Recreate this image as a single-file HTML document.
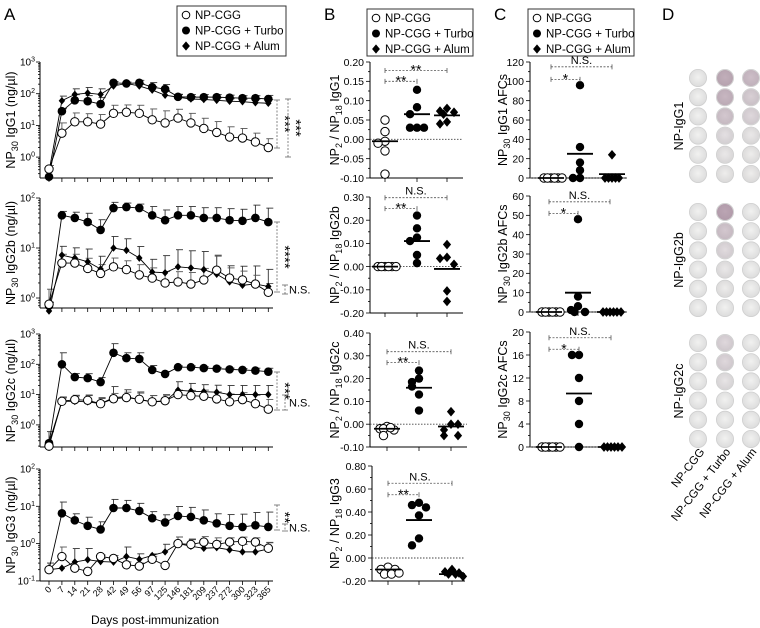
<!DOCTYPE html>
<html><head><meta charset="utf-8">
<style>
html,body{margin:0;padding:0;background:#fff;}
svg{display:block;font-family:"Liberation Sans",Arial,sans-serif;}
</style></head>
<body>
<svg id="fig" width="760" height="628" viewBox="0 0 760 628" xmlns="http://www.w3.org/2000/svg">
<text x="4" y="20" font-size="17">A</text>
<text x="324" y="20" font-size="17">B</text>
<text x="494" y="20" font-size="17">C</text>
<text x="662" y="20" font-size="17">D</text>
<text x="155" y="624" font-size="12" text-anchor="middle">Days post-immunization</text>
</svg>
<script>
// ---------- Panel A data ----------
const days = ['0','7','14','21','28','42','49','56','97','125','146','181','209','237','272','300','323','365'];
const g1Open  = [0.42,5.7,13,13,11,24,26,24,15,12,17,12,8,6,4.3,4,3,2];
const g1Turbo = [0.24,28,62,58,47,220,210,220,160,140,80,78,78,78,75,72,72,68];
const g1Alum  = [0.35,60,95,105,95,175,210,175,130,90,78,68,66,62,58,56,52,50];
const g1OpenErr  = [1.3,2.1,1.9,1.8,2,1.8,1.7,1.8,2.2,2.4,1.9,2,2.1,2.2,2.1,2,1.9,1.9];
const g1TurboErr = [1,1.2,1.5,1.5,1.6,1.1,1.1,1.2,1.4,1.4,1.2,1.2,1.2,1.2,1.2,1.2,1.2,1.3];
const g1AlumErr  = [1,1.4,1.5,1.5,1.5,1.1,1.1,1.2,1.3,1.4,1.2,1.2,1.2,1.2,1.2,1.2,1.3,1.3];

const g2bOpen  = [0.75,5,5,3.9,3.1,4.2,3.7,2.9,2.5,2.0,2.1,1.9,2.3,3.6,2.5,2.3,1.9,1.3];
const g2bTurbo = [0.7,45,40,33,23,63,66,63,45,36,45,45,40,40,36,35,40,33];
const g2bAlum  = [0.55,7.2,6.3,5.3,3.8,10,9,6.3,3.3,3.2,4.2,4,3.7,3.0,2.1,1.8,1.9,1.7];
const g2bOpenErr  = [2,1.5,1.5,1.6,1.5,1.5,1.5,1.6,1.6,1.7,1.6,1.7,1.7,2,1.6,1.5,1.5,1.5];
const g2bTurboErr = [1,1.2,1.3,1.5,1.6,1.3,1.2,1.2,1.5,1.6,1.5,1.5,1.6,1.6,1.7,1.7,1.8,1.9];
const g2bAlumErr  = [1.5,1.5,1.6,1.8,1.8,1.7,1.7,1.7,1.8,2.2,2.2,2.2,2.3,2.3,2.1,2.4,2.3,2.2];

const g2cOpen  = [0.2,6,6.8,6.5,5,7.3,8,7,5.8,6.3,10,9.2,8.8,7.2,5.8,6.8,5,3.3];
const g2cTurbo = [0.25,100,38,35,26,240,160,150,65,48,80,80,75,72,68,65,62,57];
const g2cAlum  = [0.25,6,6,5.8,5,8,8.5,6.8,5.8,6,14,13,12.5,12,10,10,10,10];
const g2cOpenErr  = [1,1.4,1.4,1.5,1.6,1.5,1.5,1.6,1.6,1.6,1.4,1.5,1.6,1.7,1.8,1.7,1.9,2.1];
const g2cTurboErr = [2.4,2.4,1.3,1.4,1.4,2,1.5,1.6,1.4,1.2,1.1,1.1,1.1,1.1,1.1,1.1,1.2,1.3];
const g2cAlumErr  = [1,1.3,1.5,1.6,1.5,2.3,1.7,1.8,1.6,1.6,1.9,1.8,1.7,1.7,2,2,2,2];

const g3Open  = [0.2,0.45,0.22,0.18,0.45,0.4,0.27,0.25,0.38,0.26,1.0,0.95,1.1,0.95,1.1,1.15,1.1,0.75];
const g3Turbo = [0.2,6.5,4.2,3,2.4,9,9,7.5,4.8,3.7,5.5,5.2,4.2,3.5,3,2.8,3.1,2.8];
const g3Alum  = [0.2,0.22,0.32,0.37,0.33,0.32,0.45,0.38,0.48,0.6,1.0,0.85,0.75,0.78,0.68,0.6,0.6,0.72];
const g3OpenErr  = [1.5,1.8,1,1,1.1,1.2,1.2,1.2,1.2,1.1,1.5,1.4,1.4,1.5,1.3,1.3,1.3,1.4];
const g3TurboErr = [1,2,1.5,1.7,1.6,1.7,1.6,1.6,1.5,1.6,1.8,1.8,1.9,1.8,2,2.2,2.2,2.5];
const g3AlumErr  = [1.5,1,2.3,2,1.2,1.3,1.8,1.4,1.1,1.6,1.5,1.5,1.5,1.5,1.4,1.6,1.5,1.5];

// ---------- Panel B data (NP2/NP18 ratios) ----------
const bG1Open=[0.05,0.02,-0.005,-0.01,-0.03,-0.09], bG1Turbo=[0.128,0.083,0.065,0.03,0.03,0.03], bG1Alum=[0.08,0.073,0.07,0.065,0.045,0.04];
const bG1Means=[-0.005,0.065,0.062];
const bG2bOpen=[0,0,0,0,0,0], bG2bTurbo=[0.22,0.165,0.125,0.11,0.05,0.015], bG2bAlum=[0.095,0.04,0.035,0.01,-0.105,-0.15];
const bG2bMeans=[0,0.11,-0.01];
const bG2cOpen=[-0.01,-0.02,-0.025,-0.02,-0.015,-0.05], bG2cTurbo=[0.235,0.2,0.185,0.165,0.13,0.06], bG2cAlum=[0.055,0.0,-0.025,-0.05,-0.05,0.0];
const bG2cMeans=[-0.02,0.16,-0.01];
const bG3Open=[-0.08,-0.1,-0.1,-0.14,-0.14,-0.13], bG3Turbo=[0.48,0.46,0.44,0.37,0.17,0.11], bG3Alum=[-0.1,-0.12,-0.13,-0.14,-0.14,-0.16];
const bG3Means=[-0.1,0.33,-0.14];

// ---------- Panel C data (AFC counts) ----------
const cG1Open=[0,0,0,0,0,0], cG1Turbo=[96,32,16,8,0,0], cG1Alum=[24,0,0,0,0,0];
const cG1Means=[0,25,4];
const cG2bOpen=[0,0,0,0,0,0], cG2bTurbo=[48,8,3,1,0,0], cG2bAlum=[0,0,0,0,0,0];
const cG2bMeans=[0,10,0];
const cG2cOpen=[0,0,0,0,0,0], cG2cTurbo=[16,16,12,8,4,0], cG2cAlum=[0,0,0,0,0,0];
const cG2cMeans=[0,9.3,0];

// ---------- Panel D well staining intensity (0..1) ----------
const wellsG1 =[[0,0.8,0.6],[0,0.7,0.4],[0,0.5,0.3],[0,0.2,0.1],[0,0.1,0.05],[0,0.05,0.05]];
const wellsG2b=[[0,0.9,0],[0,0.5,0],[0,0.25,0],[0,0.1,0],[0,0.05,0],[0,0,0]];
const wellsG2c=[[0,0.3,0],[0,0.3,0],[0,0.15,0],[0,0,0],[0,0,0],[0,0,0]];

const NS='http://www.w3.org/2000/svg';
const svg=document.getElementById('fig');
function mk(tag,attrs,parent){const e=document.createElementNS(NS,tag);for(const k in attrs)e.setAttribute(k,attrs[k]);(parent||svg).appendChild(e);return e;}
function txt(x,y,s,size,anchor,parent){const t=mk('text',{x:x,y:y,'font-size':size,'text-anchor':anchor||'start'},parent);t.textContent=s;return t;}
function marker(kind,x,y,r,parent){
  let e;
  if(kind==='open'){e=mk('circle',{cx:x,cy:y,r:r,fill:'#fff',stroke:'#000','stroke-width':1},parent);}
  else if(kind==='turbo'){e=mk('circle',{cx:x,cy:y,r:r,fill:'#000'},parent);}
  else {const d=r*1.15;e=mk('polygon',{points:`${x},${y-d} ${x+d*0.85},${y} ${x},${y+d} ${x-d*0.85},${y}`,fill:'#000'},parent);}
  return e;
}
function legend(x,y,w,h,name){
  const g=mk('g',{});
  
  
  mk('rect',{x:x,y:y,width:w,height:h,fill:'#fff',stroke:'#333','stroke-width':1},g);
  const kinds=['open','turbo','alum'], labels=['NP-CGG','NP-CGG + Turbo','NP-CGG + Alum'];
  for(let i=0;i<3;i++){
    const yy=y+9+i*15.5;
    const m=marker(kinds[i],x+9,yy,kinds[i]==='open'?3.8:4,g);
    
    
    const t=txt(x+18,yy+4,labels[i],11.5,'start',g);
    
    
  }
}
legend(177,6,109,50,'legend-a');
legend(367,9,106,47,'legend-b');
legend(528,9,106,47,'legend-c');

// ---------- Panel A ----------
const xA0=49, xStep=12.9, axL=40, axR=273;
function xA(i){return xA0+i*xStep;}
// parts: array of [string, isSub]
function ylab(x,yc,parts,parent,size){
  size=size||12;
  const t=mk('text',{transform:`translate(${x},${yc}) rotate(-90)`,'text-anchor':'middle','font-size':size},parent);
  let sub=false;
  for(const [s,isSub] of parts){
    const a={};
    if(isSub&&!sub){a.dy=3;}
    if(!isSub&&sub){a.dy=-3;}
    if(isSub)a['font-size']=size*0.72;
    const sp=mk('tspan',a,t);sp.textContent=s;sub=isSub;
  }
  return t;
}
function logPanel(cfg){
  const g=mk('g',{});
  
  
  const y=v=>cfg.top+(cfg.topExp-Math.log10(v))*cfg.dec;
  const minExp=cfg.topExp-(cfg.bottom-cfg.top)/cfg.dec;
  mk('line',{x1:axL,y1:cfg.top,x2:axL,y2:cfg.bottom,stroke:'#000','stroke-width':1},g);
  mk('line',{x1:axL,y1:cfg.bottom,x2:axR,y2:cfg.bottom,stroke:'#000','stroke-width':1},g);
  for(let e=Math.floor(minExp);e<=cfg.topExp;e++){
    for(let m=1;m<10;m++){
      const v=m*Math.pow(10,e);const lv=Math.log10(v);
      if(lv<minExp-1e-6||lv>cfg.topExp+1e-6)continue;
      const yy=y(v);
      mk('line',{x1:axL-(m===1?4:2),y1:yy,x2:axL,y2:yy,stroke:'#000','stroke-width':0.8},g);
      if(m===1){
        const t=mk('text',{x:axL-5,y:yy+3.5,'font-size':10,'text-anchor':'end'},g);
        const a=mk('tspan',{},t);a.textContent='10';
        const b=mk('tspan',{dy:-4,'font-size':7},t);b.textContent=String(e);
        
        
      }
    }
  }
  for(let i=0;i<days.length;i++){
    mk('line',{x1:xA(i),y1:cfg.bottom,x2:xA(i),y2:cfg.bottom+4,stroke:'#000','stroke-width':0.8},g);
    if(cfg.xlabels){
      const t=mk('text',{transform:`translate(${xA(i)+3},${cfg.bottom+9}) rotate(-45)`,'font-size':9,'text-anchor':'end'},g);
      t.textContent=days[i];
      
      
    }
  }
  const yl=ylab(15,(cfg.top+cfg.bottom)/2,[['NP',false],['30',true],[' '+cfg.label+' (ng/\u00b5l)',false]],g,12.5);
  
  
  const series=[['alum',cfg.alum,cfg.alumErr],['turbo',cfg.turbo,cfg.turboErr],['open',cfg.open,cfg.openErr]];
  for(const [k,vals,err] of series){
    for(let i=0;i<vals.length;i++){
      if(err[i]<=1.01)continue;
      const y0=y(vals[i]),y1=y(vals[i]*err[i]);
      mk('line',{x1:xA(i),y1:y0,x2:xA(i),y2:y1,stroke:k==='open'?'#555':'#333','stroke-width':0.9},g);
      mk('line',{x1:xA(i)-2,y1:y1,x2:xA(i)+5,y2:y1,stroke:k==='open'?'#555':'#333','stroke-width':0.9},g);
    }
  }
  for(const [k,vals] of series){
    const pts=vals.map((v,i)=>`${xA(i)},${y(v)}`).join(' ');
    const pl=mk('polyline',{points:pts,fill:'none',stroke:'#000','stroke-width':0.9},g);
    
    
  }
  for(const [k,vals] of series){
    for(let i=0;i<vals.length;i++){
      const m=marker(k,xA(i),y(vals[i]),k==='alum'?3.3:(k==='open'?4.2:4.3),g);
      
      
    }
  }
  for(const s of cfg.sig){
    const y1=s.y1,y2=s.y2;
    mk('line',{x1:s.x,y1:y1,x2:s.x,y2:y2,stroke:'#666','stroke-width':0.8,'stroke-dasharray':'2,1.5'},g);
    mk('line',{x1:s.x-3,y1:y1,x2:s.x+3,y2:y1,stroke:'#666','stroke-width':0.8},g);
    mk('line',{x1:s.x-3,y1:y2,x2:s.x+3,y2:y2,stroke:'#666','stroke-width':0.8},g);
    let t;
    if(s.label==='N.S.'){t=txt(s.x+4,(y1+y2)/2+4,'N.S.',11,'start',g);}
    else{t=mk('text',{transform:`translate(${s.x+3},${(y1+y2)/2}) rotate(90)`,'font-size':15,'text-anchor':'middle'},g);t.textContent=s.label;}
    
    
  }
}
logPanel({name:'igg1-timecourse',label:'IgG1',top:62,topExp:3,dec:31.7,bottom:178,open:g1Open,turbo:g1Turbo,alum:g1Alum,openErr:g1OpenErr,turboErr:g1TurboErr,alumErr:g1AlumErr,
  sig:[{x:277,y1:100,y2:148,label:'***'},{x:288,y1:99,y2:157,label:'***'}]});
logPanel({name:'igg2b-timecourse',label:'IgG2b',top:198,topExp:2,dec:50,bottom:308,open:g2bOpen,turbo:g2bTurbo,alum:g2bAlum,openErr:g2bOpenErr,turboErr:g2bTurboErr,alumErr:g2bAlumErr,
  sig:[{x:277,y1:222,y2:292,label:'****'},{x:285,y1:285,y2:294,label:'N.S.'}]});
logPanel({name:'igg2c-timecourse',label:'IgG2c',top:334,topExp:3,dec:30.3,bottom:447,open:g2cOpen,turbo:g2cTurbo,alum:g2cAlum,openErr:g2cOpenErr,turboErr:g2cTurboErr,alumErr:g2cAlumErr,
  sig:[{x:277,y1:372,y2:410,label:'***'},{x:285,y1:395,y2:410,label:'N.S.'}]});
logPanel({name:'igg3-timecourse',label:'IgG3',top:469,topExp:2,dec:37.3,bottom:581,open:g3Open,turbo:g3Turbo,alum:g3Alum,openErr:g3OpenErr,turboErr:g3TurboErr,alumErr:g3AlumErr,xlabels:true,
  sig:[{x:277,y1:505,y2:530,label:'**'},{x:285,y1:524,y2:531,label:'N.S.'}]});

// ---------- Panels B/C scatter ----------
function scatter(cfg){
  const g=mk('g',{});
  
  
  const y=v=>cfg.top+(cfg.max-v)/(cfg.max-cfg.min)*(cfg.bottom-cfg.top);
  mk('line',{x1:cfg.left,y1:cfg.top,x2:cfg.left,y2:cfg.bottom,stroke:'#000','stroke-width':1},g);
  mk('line',{x1:cfg.left,y1:cfg.bottom,x2:cfg.right,y2:cfg.bottom,stroke:'#000','stroke-width':1},g);
  for(let i=0;i<cfg.ticks.length;i++){
    const v=cfg.ticks[i];const yy=y(v);
    mk('line',{x1:cfg.left-4,y1:yy,x2:cfg.left,y2:yy,stroke:'#000','stroke-width':0.8},g);
    if(i<cfg.ticks.length-1){const ym=y((v+cfg.ticks[i+1])/2);mk('line',{x1:cfg.left-2,y1:ym,x2:cfg.left,y2:ym,stroke:'#000','stroke-width':0.8},g);}
    const t=txt(cfg.left-6,yy+3.8,cfg.tickLabels[i],10.5,'end',g);
    
    
  }
  for(const gx of cfg.gx) mk('line',{x1:gx,y1:cfg.bottom,x2:gx,y2:cfg.bottom+4,stroke:'#000','stroke-width':0.8},g);
  mk('line',{x1:cfg.left,y1:y(0),x2:cfg.right,y2:y(0),stroke:'#444','stroke-width':0.9,'stroke-dasharray':'1.5,1.5'},g);
  const yl=ylab(cfg.ylx,(cfg.top+cfg.bottom)/2,cfg.ylParts,g,12.5);
  
  
  const kinds=['open','turbo','alum'];
  for(let s=0;s<3;s++){
    const placed=[];
    const vals=cfg.series[s];
    for(let i=0;i<vals.length;i++){
      const yy=y(vals[i]);
      const k=placed.filter(p=>Math.abs(p-yy)<7).length;
      placed.push(yy);
      const off=[0,-7,7,-3.5,3.5,11,-11][k%7];
      const m=marker(kinds[s],cfg.gx[s]+off,yy,4.2,g);
      
      
    }
    const ml=mk('line',{x1:cfg.gx[s]-13,y1:y(cfg.means[s]),x2:cfg.gx[s]+13,y2:y(cfg.means[s]),stroke:'#000','stroke-width':1.8},g);
    
    
  }
  for(const b of cfg.brackets){
    const yy=y(b.v);const x1=cfg.gx[0],x2=cfg.gx[b.to];
    mk('line',{x1:x1,y1:yy,x2:x2,y2:yy,stroke:'#555','stroke-width':0.8,'stroke-dasharray':'2,1.5'},g);
    mk('line',{x1:x1,y1:yy-2.5,x2:x1,y2:yy+2.5,stroke:'#555','stroke-width':0.8},g);
    mk('line',{x1:x2,y1:yy-2.5,x2:x2,y2:yy+2.5,stroke:'#555','stroke-width':0.8},g);
    const t=txt((x1+x2)/2,b.label==='N.S.'?yy-3:yy+4,b.label,b.label==='N.S.'?11:14,'middle',g);
    
    
  }
}
function bLab(s){return [['NP',false],['2',true],[' / NP',false],['18',true],[' '+s,false]];}
function cLab(s){return [['NP',false],['30',true],[' '+s+' AFCs',false]];}
const bGx=[385,417,447], cGx=[551,580,612];
scatter({name:'ratio-igg1',left:370,right:463,top:62,bottom:178,max:0.20,min:-0.10,ticks:[-0.10,-0.05,0,0.05,0.10,0.15,0.20],tickLabels:['-0.10','-0.05','0.00','0.05','0.10','0.15','0.20'],
  gx:bGx,series:[bG1Open,bG1Turbo,bG1Alum],means:bG1Means,ylx:339,ylParts:bLab('IgG1'),brackets:[{v:0.15,to:1,label:'**'},{v:0.178,to:2,label:'**'}]});
scatter({name:'ratio-igg2b',left:370,right:463,top:197,bottom:313,max:0.30,min:-0.20,ticks:[-0.20,-0.10,0,0.10,0.20,0.30],tickLabels:['-0.20','-0.10','0.00','0.10','0.20','0.30'],
  gx:bGx,series:[bG2bOpen,bG2bTurbo,bG2bAlum],means:bG2bMeans,ylx:339,ylParts:bLab('IgG2b'),brackets:[{v:0.25,to:1,label:'**'},{v:0.297,to:2,label:'N.S.'}]});
scatter({name:'ratio-igg2c',left:370,right:467,top:333,bottom:447,max:0.40,min:-0.10,ticks:[-0.10,0,0.10,0.20,0.30,0.40],tickLabels:['-0.10','0.00','0.10','0.20','0.30','0.40'],
  gx:[387,419,451],series:[bG2cOpen,bG2cTurbo,bG2cAlum],means:bG2cMeans,ylx:339,ylParts:bLab('IgG2c'),brackets:[{v:0.27,to:1,label:'**'},{v:0.318,to:2,label:'N.S.'}]});
scatter({name:'ratio-igg3',left:372,right:465,top:466,bottom:581,max:0.80,min:-0.20,ticks:[-0.20,0,0.20,0.40,0.60,0.80],tickLabels:['-0.20','0.00','0.20','0.40','0.60','0.80'],
  gx:[388,419,452],series:[bG3Open,bG3Turbo,bG3Alum],means:bG3Means,ylx:339,ylParts:bLab('IgG3'),brackets:[{v:0.55,to:1,label:'**'},{v:0.65,to:2,label:'N.S.'}]});
scatter({name:'afc-igg1',left:530,right:627,top:62,bottom:178,max:120,min:0,ticks:[0,20,40,60,80,100,120],tickLabels:['0','20','40','60','80','100','120'],
  gx:cGx,series:[cG1Open,cG1Turbo,cG1Alum],means:cG1Means,ylx:507,ylParts:cLab('IgG1'),brackets:[{v:102,to:1,label:'*'},{v:115,to:2,label:'N.S.'}]});
scatter({name:'afc-igg2b',left:530,right:627,top:196,bottom:312,max:60,min:0,ticks:[0,10,20,30,40,50,60],tickLabels:['0','10','20','30','40','50','60'],
  gx:[549,578,610],series:[cG2bOpen,cG2bTurbo,cG2bAlum],means:cG2bMeans,ylx:507,ylParts:cLab('IgG2b'),brackets:[{v:51,to:1,label:'*'},{v:57,to:2,label:'N.S.'}]});
scatter({name:'afc-igg2c',left:530,right:625,top:332,bottom:447,max:20,min:0,ticks:[0,4,8,12,16,20],tickLabels:['0','4','8','12','16','20'],
  gx:[549,579,611],series:[cG2cOpen,cG2cTurbo,cG2cAlum],means:cG2cMeans,ylx:507,ylParts:cLab('IgG2c'),brackets:[{v:17,to:1,label:'*'},{v:19,to:2,label:'N.S.'}]});

// ---------- Panel D wells ----------
const defs=mk('defs',{});
const rg=mk('radialGradient',{id:'well',cx:'50%',cy:'45%',r:'55%'},defs);
mk('stop',{offset:'0%','stop-color':'#f1f1f0'},rg);mk('stop',{offset:'100%','stop-color':'#dcdcdc'},rg);
const wx=[698,725,751];
function wells(data,y0,label,name){
  const g=mk('g',{});
  
  
  for(let r=0;r<data.length;r++)for(let c=0;c<3;c++){
    const cx=wx[c],cy=y0+r*19.2;
    const w=mk('circle',{cx:cx,cy:cy,r:8.6,fill:'url(#well)',stroke:'#cfcfcf','stroke-width':0.8},g);
    
    
    const v=data[r][c];
    if(v>0) mk('circle',{cx:cx,cy:cy,r:8,fill:'#7a4a6a','fill-opacity':v*0.5},g);
  }
  const t=mk('text',{transform:`translate(683,${y0+48}) rotate(-90)`,'font-size':12.5,'text-anchor':'middle'},g);
  t.textContent=label;
  
  
}
wells(wellsG1,78,'NP-IgG1','wells-igg1');
wells(wellsG2b,212,'NP-IgG2b','wells-igg2b');
wells(wellsG2c,343,'NP-IgG2c','wells-igg2c');
const dl=[['NP-CGG',705],['NP-CGG + Turbo',731],['NP-CGG + Alum',757]];
for(const [s,x] of dl){
  const t=mk('text',{transform:`translate(${x},452) rotate(-52)`,'font-size':11.5,'text-anchor':'end'});
  t.textContent=s;
  
  
}
</script>
</body></html>
